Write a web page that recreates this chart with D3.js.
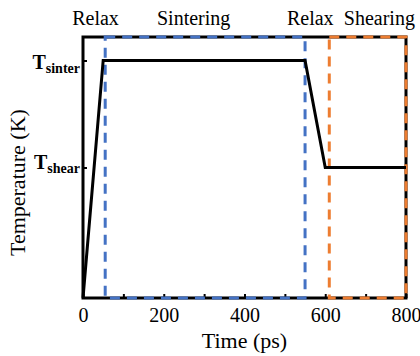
<!DOCTYPE html>
<html>
<head>
<meta charset="utf-8">
<script src="https://cdn.jsdelivr.net/npm/d3@7"></script>
<style>
  html, body { margin: 0; padding: 0; background: #fff; }
  svg { display: block; }
  svg text { font-family: "Liberation Serif", "Times New Roman", Times, serif !important; }
</style>
</head>
<body>
<svg id="chart" width="420" height="356"></svg>
<script>
// Temperature schedule of the simulation (time in ps, temperature in relative units)
const profileTime = [0, 50, 550, 600, 800];
const profileTemp = [0, 0.91, 0.91, 0.5, 0.5];

// Named temperature levels shown on the y axis
const levelNames = ["sinter", "shear"];
const levelValues = [0.91, 0.5];

// Stage windows marked with dashed boxes
const stageStart = [55, 610];
const stageEnd = [550, 800];
const stageColors = ["#4472C4", "#ED7D31"];

// Stage captions along the top
const stageLabels = ["Relax", "Sintering", "Relax", "Shearing"];
const stageLabelTime = [31, 274, 563, 734];

// X axis ticks
const xMinorTicks = [0, 100, 200, 300, 400, 500, 600, 700, 800];
const xTickLabels = [0, 200, 400, 600, 800];

const W = 420, H = 356;
const margin = { top: 37, right: 14, bottom: 58, left: 83 };
const innerW = W - margin.left - margin.right;
const innerH = H - margin.top - margin.bottom;

const svg = d3.select("#chart");
const g = svg.append("g").attr("transform", `translate(${margin.left},${margin.top})`);

const x = d3.scaleLinear().domain([0, 800]).range([0, innerW]);
const y = d3.scaleLinear().domain([0, 1]).range([innerH, 0]);

// Frame
g.append("rect")
  .attr("x", 0).attr("y", 0)
  .attr("width", innerW).attr("height", innerH)
  .attr("fill", "none").attr("stroke", "#000").attr("stroke-width", 3);

// Bottom axis: inward ticks every 100 ps, labels every 200 ps
const xAxis = d3.axisBottom(x)
  .tickValues(xMinorTicks)
  .tickSizeInner(-4).tickSizeOuter(0)
  .tickFormat(d => xTickLabels.includes(d) ? d : "");
const xg = g.append("g").attr("transform", `translate(0,${innerH})`).call(xAxis);
xg.select(".domain").remove();
xg.selectAll(".tick line").attr("stroke", "#000").attr("stroke-width", 2);
xg.selectAll(".tick text")
  .attr("y", 24).attr("dy", null)
  .attr("font-size", 20).attr("fill", "#000");

// Left axis: named temperature levels
const yAxis = d3.axisLeft(y)
  .tickValues(levelValues)
  .tickSizeInner(-4).tickSizeOuter(0)
  .tickFormat("");
const yg = g.append("g").call(yAxis);
yg.select(".domain").remove();
yg.selectAll(".tick line").attr("stroke", "#000").attr("stroke-width", 2);
yg.selectAll(".tick").each(function(d, i) {
  const t = d3.select(this).append("text")
    .attr("x", -3).attr("y", i === 0 ? 8 : 1)
    .attr("text-anchor", "end")
    .attr("font-weight", "bold")
    .attr("fill", "#000");
  t.append("tspan").attr("font-size", 20).text("T");
  t.append("tspan").attr("font-size", 14).attr("dy", 4).text(levelNames[i]);
});

// Dashed stage boxes
stageStart.forEach((s, i) => {
  g.append("rect")
    .attr("x", x(s)).attr("y", 0)
    .attr("width", x(stageEnd[i]) - x(s)).attr("height", innerH)
    .attr("fill", "none")
    .attr("stroke", stageColors[i])
    .attr("stroke-width", 3)
    .attr("stroke-dasharray", "10,7");
});

// Temperature profile
const line = d3.line().x(d => x(d[0])).y(d => y(d[1]));
g.append("path")
  .datum(profileTime.map((t, i) => [t, profileTemp[i]]))
  .attr("d", line)
  .attr("fill", "none")
  .attr("stroke", "#000")
  .attr("stroke-width", 3)
  .attr("stroke-linejoin", "miter");

// Stage captions
g.selectAll(".stage")
  .data(stageLabels)
  .join("text")
  .attr("class", "stage")
  .attr("x", (d, i) => x(stageLabelTime[i]))
  .attr("y", -12)
  .attr("text-anchor", "middle")
  .attr("font-size", 20)
  .attr("fill", "#000")
  .text(d => d);

// Axis titles
svg.append("text")
  .attr("x", margin.left + innerW / 2)
  .attr("y", 348)
  .attr("text-anchor", "middle")
  .attr("font-size", 22)
  .attr("fill", "#000")
  .text("Time (ps)");

svg.append("text")
  .attr("transform", "translate(25,256) rotate(-90)")
  .attr("text-anchor", "start")
  .attr("font-size", 22)
  .attr("fill", "#000")
  .text("Temperature (K)");
</script>
</body>
</html>
